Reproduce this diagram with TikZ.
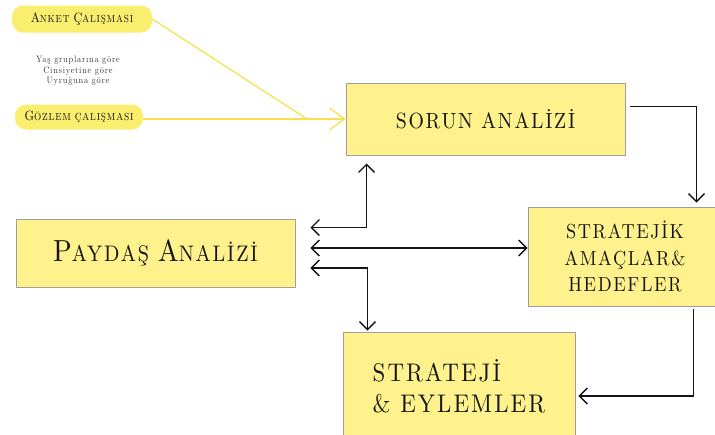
\documentclass[tikz,border=0pt]{standalone}
\usepackage{fontspec}
\setmainfont{lmroman10-regular.otf}[LetterSpace=8, FakeStretch=0.9]
\usepackage{tikz}
\usetikzlibrary{calc,arrows.meta}

\definecolor{boxfill}{HTML}{FFF28C}
\definecolor{hlfill}{HTML}{F9EE6E}
\definecolor{hlline}{HTML}{F6E24E}
\definecolor{ink}{HTML}{141414}

\newcommand{\capword}[4]{{\fontsize{#3}{#3}\selectfont #1}{\fontsize{#4}{#4}\selectfont #2}}

\tikzset{
  stagebox/.style={draw=gray!75, line width=0.8pt, fill=boxfill, text=ink, inner sep=0pt},
  hlnote/.style={fill=hlfill, rounded corners=11pt, inner sep=0pt, text=ink},
  flow/.style={draw=ink, line width=1.4pt, {Straight Barb[length=8pt,width=16pt]}-{Straight Barb[length=8pt,width=16pt]}},
  flowto/.style={draw=ink, line width=1.4pt, -{Straight Barb[length=8pt,width=16pt]}},
  feed/.style={draw=hlline, line width=1.3pt}
}

\begin{document}
\begin{tikzpicture}[x=1pt, y=-1pt]
  \useasboundingbox (0,0) rectangle (715,434);

%boxes
  \node[stagebox, minimum width=279pt, minimum height=72pt, font=\fontsize{22}{26}\selectfont] (SA) at (485.5,119)
    {SORUN ANALİZİ};
  \node[stagebox, minimum width=279pt, minimum height=68pt] (PA) at (155.5,253)
    {\capword{P}{AYDAŞ}{30.5}{22.5}\hspace{9pt}\capword{A}{NALİZİ}{30.5}{22.5}};
  \node[stagebox, minimum width=194pt, minimum height=99pt, align=center, font=\fontsize{20.3}{26.5}\selectfont] (SH) at (625,256.5)
    {STRATEJİK\\AMAÇLAR\&\\HEDEFLER};
  \node[stagebox, minimum width=232pt, minimum height=108pt, align=left, font=\fontsize{25.5}{31}\selectfont] (SE) at (459,386)
    {STRATEJİ\\\& EYLEMLER};

%notes
  \node[hlnote, minimum width=140pt, minimum height=27pt] (AK) at (82,19)
    {\capword{A}{NKET}{13.5}{10.3}\hspace{4pt}\capword{Ç}{ALIŞMASI}{13.5}{10.3}\hspace{6pt}};
  \node[hlnote, minimum width=128pt, minimum height=25pt] (GZ) at (79,117)
    {\capword{G}{ÖZLEM}{13.5}{10.3}\hspace{4pt}{\fontsize{10.3}{10.3}\selectfont ÇALIŞMASI}};
  \node[text=ink!85, align=center, inner sep=0pt, font=\fontsize{9.3}{10.5}\selectfont] (YG) at (78,71)
    {Yaş gruplarına göre\\Cinsiyetine göre\\Uyruğuna göre};

%feeds
  \coordinate (join) at ($(GZ.east |- SA.west)!0.81!(SA.west)$);
  \draw[feed] (AK.east) -- (join);
  \draw[feed, -{Straight Barb[length=15pt,width=22pt]}] (GZ.east |- SA.west) -- (SA.west);

%flow
  \draw[flowto] ($(SA.north east)+(5,24)$) -| ($(SH.north east)+(-26,-4)$);
  \draw[flowto] ($(SH.south east)+(-29,3)$) |- ($(SE.east)+(3,10)$);
  \draw[flow] ($(PA.north east)+(15,9)$) -| ($(SA.south west)+(21,8)$);
  \draw[flow] ($(PA.east)+(15,-5)$) -- ($(SH.west)+(0,-8.5)$);
  \draw[flow] ($(PA.east)+(15,15)$) -| ($(SE.north west)+(25,-1)$);
\end{tikzpicture}
\end{document}
